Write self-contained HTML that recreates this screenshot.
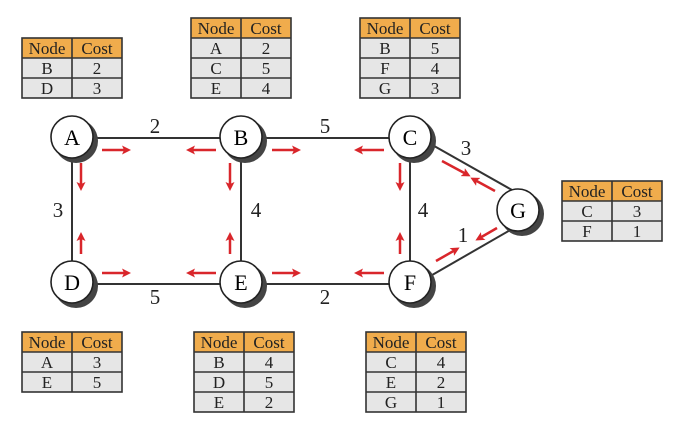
<!DOCTYPE html>
<html><head><style>body{margin:0;background:#fff}svg{display:block}</style></head><body>
<svg width="687" height="437" viewBox="0 0 687 437" xmlns="http://www.w3.org/2000/svg" font-family="Liberation Serif, serif">
<defs>
<marker id="ah" markerWidth="9" markerHeight="9" refX="6" refY="4.5" orient="auto" markerUnits="userSpaceOnUse"><path d="M0,0 L9,4.5 L0,9 L2,4.5 z" fill="#d9262b"/></marker>
<g id="tb2">
<rect x="0" y="0" width="100" height="20" fill="#f0ac4c"/>
<rect x="0" y="20" width="100" height="40" fill="#e6e6e6"/>
<g stroke="#333" stroke-width="1.6" fill="none"><rect x="0" y="0" width="100" height="60"/><line x1="50" y1="0" x2="50" y2="60"/><line x1="0" y1="20" x2="100" y2="20"/><line x1="0" y1="40" x2="100" y2="40"/></g>
</g>
<g id="tb3">
<rect x="0" y="0" width="100" height="20" fill="#f0ac4c"/>
<rect x="0" y="20" width="100" height="60" fill="#e6e6e6"/>
<g stroke="#333" stroke-width="1.6" fill="none"><rect x="0" y="0" width="100" height="80"/><line x1="50" y1="0" x2="50" y2="80"/><line x1="0" y1="20" x2="100" y2="20"/><line x1="0" y1="40" x2="100" y2="40"/><line x1="0" y1="60" x2="100" y2="60"/></g>
</g>
</defs>
<!-- edges -->
<g stroke="#333" stroke-width="2">
<line x1="72" y1="138" x2="241" y2="138"/><line x1="241" y1="138" x2="410" y2="138"/>
<line x1="72" y1="284" x2="241" y2="284"/><line x1="241" y1="284" x2="410" y2="284"/>
<line x1="72" y1="138" x2="72" y2="284"/><line x1="241" y1="138" x2="241" y2="284"/><line x1="410" y1="138" x2="410" y2="284"/>
<line x1="420" y1="138" x2="512" y2="190"/><line x1="420" y1="282" x2="512" y2="229"/>
</g>
<!-- nodes -->
<g font-size="22" text-anchor="middle">
<g transform="translate(72,137)"><circle cx="4" cy="4" r="22" fill="#444"/><circle r="21" fill="#fff" stroke="#222" stroke-width="1.6"/><text y="8">A</text></g>
<g transform="translate(241,137)"><circle cx="4" cy="4" r="22" fill="#444"/><circle r="21" fill="#fff" stroke="#222" stroke-width="1.6"/><text y="8">B</text></g>
<g transform="translate(410,137)"><circle cx="4" cy="4" r="22" fill="#444"/><circle r="21" fill="#fff" stroke="#222" stroke-width="1.6"/><text y="8">C</text></g>
<g transform="translate(72,282)"><circle cx="4" cy="4" r="22" fill="#444"/><circle r="21" fill="#fff" stroke="#222" stroke-width="1.6"/><text y="8">D</text></g>
<g transform="translate(241,282)"><circle cx="4" cy="4" r="22" fill="#444"/><circle r="21" fill="#fff" stroke="#222" stroke-width="1.6"/><text y="8">E</text></g>
<g transform="translate(410,282)"><circle cx="4" cy="4" r="22" fill="#444"/><circle r="21" fill="#fff" stroke="#222" stroke-width="1.6"/><text y="8">F</text></g>
<g transform="translate(518,210)"><circle cx="4" cy="4" r="22" fill="#444"/><circle r="21" fill="#fff" stroke="#222" stroke-width="1.6"/><text y="8">G</text></g>
</g>
<!-- edge labels -->
<g font-size="21" text-anchor="middle" fill="#222">
<text x="155" y="133">2</text><text x="325" y="133">5</text>
<text x="58" y="217">3</text><text x="256" y="217">4</text><text x="423" y="217">4</text>
<text x="155" y="304">5</text><text x="325" y="304">2</text>
<text x="466" y="155">3</text><text x="463" y="242">1</text>
</g>
<!-- arrows -->
<g stroke="#d9262b" stroke-width="2.5" marker-end="url(#ah)">
<line x1="102" y1="150" x2="128" y2="150"/><line x1="216" y1="150" x2="189" y2="150"/>
<line x1="272" y1="150" x2="298" y2="150"/><line x1="384" y1="150" x2="357" y2="150"/>
<line x1="102" y1="273" x2="128" y2="273"/><line x1="216" y1="273" x2="189" y2="273"/>
<line x1="272" y1="273" x2="298" y2="273"/><line x1="384" y1="273" x2="357" y2="273"/>
<line x1="81" y1="163" x2="81" y2="188"/><line x1="230" y1="163" x2="230" y2="188"/><line x1="400" y1="163" x2="400" y2="188"/>
<line x1="81" y1="254" x2="81" y2="235"/><line x1="230" y1="254" x2="230" y2="235"/><line x1="400" y1="254" x2="400" y2="235"/>
<line x1="442" y1="161" x2="468" y2="175"/><line x1="495" y1="191" x2="473" y2="179"/>
<line x1="436" y1="261" x2="457" y2="249"/><line x1="497" y1="228" x2="478" y2="239"/>
</g>
<!-- tables -->
<g font-size="17" text-anchor="middle" fill="#222">
<g transform="translate(22,38)"><use href="#tb2"/><text x="25" y="16">Node</text><text x="75" y="16">Cost</text><text x="25" y="36">B</text><text x="75" y="36">2</text><text x="25" y="56">D</text><text x="75" y="56">3</text></g>
<g transform="translate(191,18)"><use href="#tb3"/><text x="25" y="16">Node</text><text x="75" y="16">Cost</text><text x="25" y="36">A</text><text x="75" y="36">2</text><text x="25" y="56">C</text><text x="75" y="56">5</text><text x="25" y="76">E</text><text x="75" y="76">4</text></g>
<g transform="translate(360,18)"><use href="#tb3"/><text x="25" y="16">Node</text><text x="75" y="16">Cost</text><text x="25" y="36">B</text><text x="75" y="36">5</text><text x="25" y="56">F</text><text x="75" y="56">4</text><text x="25" y="76">G</text><text x="75" y="76">3</text></g>
<g transform="translate(562,181)"><use href="#tb2"/><text x="25" y="16">Node</text><text x="75" y="16">Cost</text><text x="25" y="36">C</text><text x="75" y="36">3</text><text x="25" y="56">F</text><text x="75" y="56">1</text></g>
<g transform="translate(22,332)"><use href="#tb2"/><text x="25" y="16">Node</text><text x="75" y="16">Cost</text><text x="25" y="36">A</text><text x="75" y="36">3</text><text x="25" y="56">E</text><text x="75" y="56">5</text></g>
<g transform="translate(194,332)"><use href="#tb3"/><text x="25" y="16">Node</text><text x="75" y="16">Cost</text><text x="25" y="36">B</text><text x="75" y="36">4</text><text x="25" y="56">D</text><text x="75" y="56">5</text><text x="25" y="76">E</text><text x="75" y="76">2</text></g>
<g transform="translate(366,332)"><use href="#tb3"/><text x="25" y="16">Node</text><text x="75" y="16">Cost</text><text x="25" y="36">C</text><text x="75" y="36">4</text><text x="25" y="56">E</text><text x="75" y="56">2</text><text x="25" y="76">G</text><text x="75" y="76">1</text></g>
</g>
</svg>
</body></html>
